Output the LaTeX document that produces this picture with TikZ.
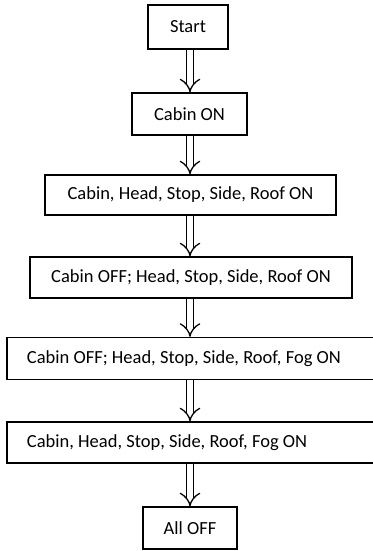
\documentclass[tikz,border=0pt]{standalone}
\usepackage{fontspec}
\setmainfont{Carlito}
\usetikzlibrary{arrows.meta}
\begin{document}
\begin{tikzpicture}[x=1pt,y=-1pt,
  box/.style={draw, line width=1.2pt, inner sep=0pt, font=\fontsize{18.5}{22}\selectfont},
  leftbox/.style={box, align=flush left, text width=327pt, inner xsep=20pt},
  flow/.style={draw, line width=1.3pt, double distance=6pt, -{Implies}}]
\useasboundingbox (0,0) rectangle (372,551);
\coordinate (axis) at (190,0);
\node[box, minimum width=80pt, minimum height=44pt] (start) at (188,27) {Start};
\node[box, minimum width=115pt, minimum height=42pt] (cabin) at (189.5,114) {Cabin ON};
\node[box, minimum width=291pt, minimum height=40pt] (all) at (190.5,195) {Cabin, Head, Stop, Side, Roof ON};
\node[box, minimum width=322pt, minimum height=41pt] (off) at (191,277.5) {Cabin OFF; Head, Stop, Side, Roof ON};
\node[leftbox, minimum width=367pt, minimum height=42pt] (fogoff) at (190.5,358.5) {Cabin OFF; Head, Stop, Side, Roof, Fog ON};
\node[leftbox, minimum width=367pt, minimum height=41pt] (fogon) at (190.5,442.5) {Cabin, Head, Stop, Side, Roof, Fog ON};
\node[box, minimum width=94pt, minimum height=42pt] (alloff) at (190,528) {All OFF};
\draw[flow] (start.south -| axis) -- (cabin.north -| axis);
\draw[flow] (cabin.south -| axis) -- (all.north -| axis);
\draw[flow] (all.south -| axis) -- (off.north -| axis);
\draw[flow] (off.south -| axis) -- (fogoff.north -| axis);
\draw[flow] (fogoff.south -| axis) -- (fogon.north -| axis);
\draw[flow] (fogon.south -| axis) -- (alloff.north -| axis);
\end{tikzpicture}
\end{document}
